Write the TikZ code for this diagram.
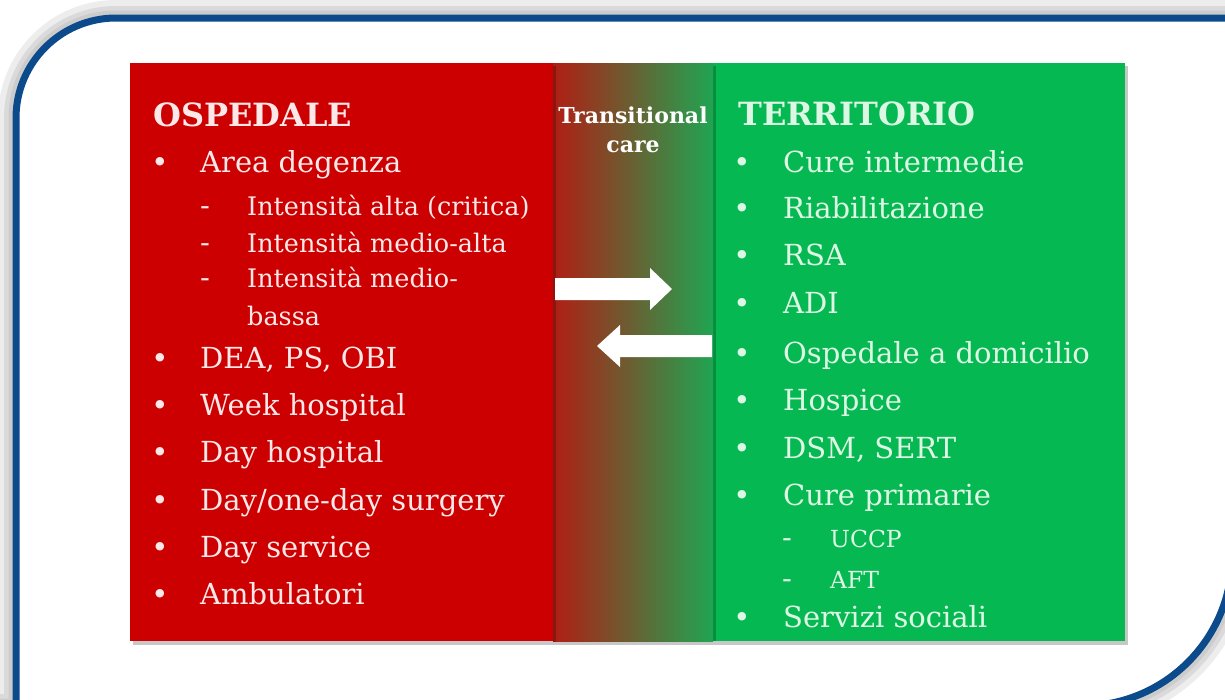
\documentclass[tikz,border=0pt]{standalone}
\usepackage{fontspec}
\setmainfont{DejaVu Serif}
\definecolor{frameblue}{HTML}{0B4A8B}
\definecolor{ospred}{HTML}{CC0000}
\definecolor{terrgreen}{HTML}{06B852}
\definecolor{tcleft}{HTML}{B01E14}
\definecolor{tcright}{HTML}{1FA552}
\definecolor{redtext}{HTML}{FCE8E8}
\definecolor{greentext}{HTML}{DDF7E5}
\definecolor{glow}{HTML}{C4C4C4}
\tikzset{
  panel/.style={anchor=north west, inner sep=0pt, outer sep=0pt, draw=none, minimum height=578pt},
  head/.style={anchor=base west, inner sep=0pt, font=\fontsize{32}{39}\selectfont\bfseries},
  item/.style={anchor=base west, inner sep=0pt, font=\fontsize{29}{35}\selectfont},
  subitem/.style={anchor=base west, inner sep=0pt, font=\fontsize{25.5}{30}\selectfont},
  subitemr/.style={anchor=base west, inner sep=0pt, font=\fontsize{23.5}{28}\selectfont},
  bul/.style={anchor=base, inner sep=0pt, font=\fontsize{29}{35}\selectfont},
  tctext/.style={anchor=base, inner sep=0pt, font=\fontsize{22}{27}\selectfont\bfseries, text=white},
  shadowbox/.style={fill=black, opacity=0.22},
  arrowfill/.style={fill=white}
}
\def\framepath{(16,800) -- (16,118) arc[start angle=180, end angle=270, radius=100] -- (1232,18) -- (1232,556) arc[start angle=0, end angle=90, radius=150] -- (-20,706) -- cycle}
\begin{document}
\begin{tikzpicture}[x=1pt, y=-1pt]
\useasboundingbox (0,0) rectangle (1225,699);
% background and glow
\fill[white] (0,0) rectangle (1225,699);
\draw[glow, opacity=0.3, line width=36pt] \framepath;
\draw[glow, opacity=0.45, line width=24pt] \framepath;
\draw[glow, opacity=0.6, line width=15pt] \framepath;
\fill[white] \framepath;
\draw[frameblue, line width=7pt] \framepath;

% panels with shadows
\fill[shadowbox] (716,66) rectangle (1128,645);
\node[panel, fill=terrgreen, minimum width=412pt] (terr) at (713,63) {};
\fill[shadowbox] (556,66) rectangle (716,645);
\node[panel, minimum width=160pt, left color=tcleft, right color=tcright] (tc) at (553,63) {};
\fill[shadowbox] (133,66) rectangle (556,645);
\node[panel, fill=ospred, minimum width=423pt] (osp) at (130,63) {};

% arrows
\fill[arrowfill] (555,278) -- (650,278) -- (650,268) -- (672,289) -- (650,310) -- (650,300) -- (555,300) -- cycle;
\fill[arrowfill] (712,335) -- (620,335) -- (620,325) -- (597,346) -- (620,367) -- (620,357) -- (712,357) -- cycle;

% transitional care
\node[tctext] (tc1) at (633,123) {Transitional};
\node[tctext] (tc2) at (633,152) {care};

% OSPEDALE
\begin{scope}[text=redtext]
\node[head] (ospH) at (153,126) {OSPEDALE};
\node[bul] (ob1) at (160,172) {•}; \node[item] (oi1) at (200,172) {Area degenza};
\node[bul] (od1) at (205,215) {-}; \node[subitem] (os1) at (247,215) {Intensità alta (critica)};
\node[bul] (od2) at (205,252) {-}; \node[subitem] (os2) at (247,252) {Intensità medio-alta};
\node[bul] (od3) at (205,287) {-}; \node[subitem] (os3) at (247,287) {Intensità medio-};
\node[subitem] (os4) at (247,325) {bassa};
\node[bul] (ob2) at (160,368) {•}; \node[item] (oi2) at (200,368) {DEA, PS, OBI};
\node[bul] (ob3) at (160,415) {•}; \node[item] (oi3) at (200,415) {Week hospital};
\node[bul] (ob4) at (160,462) {•}; \node[item] (oi4) at (200,462) {Day hospital};
\node[bul] (ob5) at (160,510) {•}; \node[item] (oi5) at (200,510) {Day/one-day surgery};
\node[bul] (ob6) at (160,557) {•}; \node[item] (oi6) at (200,557) {Day service};
\node[bul] (ob7) at (160,604) {•}; \node[item] (oi7) at (200,604) {Ambulatori};
\end{scope}

% TERRITORIO
\begin{scope}[text=greentext]
\node[head] (terH) at (738,125) {TERRITORIO};
\node[bul] (tb1) at (742,172) {•}; \node[item] (ti1) at (783,172) {Cure intermedie};
\node[bul] (tb2) at (742,218) {•}; \node[item] (ti2) at (783,218) {Riabilitazione};
\node[bul] (tb3) at (742,265) {•}; \node[item] (ti3) at (783,265) {RSA};
\node[bul] (tb4) at (742,313) {•}; \node[item] (ti4) at (783,313) {ADI};
\node[bul] (tb5) at (742,363) {•}; \node[item] (ti5) at (783,363) {Ospedale a domicilio};
\node[bul] (tb6) at (742,410) {•}; \node[item] (ti6) at (783,410) {Hospice};
\node[bul] (tb7) at (742,458) {•}; \node[item] (ti7) at (783,458) {DSM, SERT};
\node[bul] (tb8) at (742,505) {•}; \node[item] (ti8) at (783,505) {Cure primarie};
\node[bul] (td1) at (787,547) {-}; \node[subitemr] (ts1) at (830,547) {UCCP};
\node[bul] (td2) at (787,588) {-}; \node[subitemr] (ts2) at (830,588) {AFT};
\node[bul] (tb9) at (742,627) {•}; \node[item] (ti9) at (783,627) {Servizi sociali};
\end{scope}
\end{tikzpicture}
\end{document}
